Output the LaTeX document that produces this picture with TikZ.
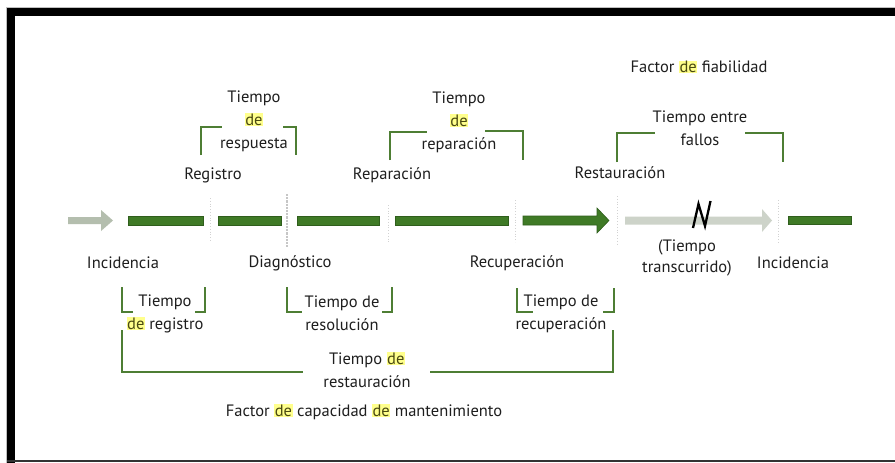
\documentclass[tikz,border=0pt]{standalone}
\usepackage{fontspec}
\setmainfont{PT Sans}
\usetikzlibrary{calc}
\definecolor{bargreen}{HTML}{3F7A26}
\definecolor{bardark}{HTML}{2F5E1C}
\definecolor{brk}{HTML}{4E7E34}
\definecolor{hly}{HTML}{FFFF8C}
\definecolor{hlt}{HTML}{4A4A12}
\definecolor{txt}{HTML}{1E1E1E}
\definecolor{ghost}{HTML}{B4BEAE}
\definecolor{ghost2}{HTML}{CDD3C9}
\newcommand{\hlde}{{\setlength{\fboxsep}{0.6pt}\colorbox{hly}{\textcolor{hlt}{de}}}}
\tikzset{
  lbl/.style={font=\fontsize{16.5}{23}\selectfont, text=txt, align=center, inner sep=0pt},
  brkline/.style={draw=brk, line width=2pt},
  barbox/.style={fill=bargreen, draw=bardark, line width=0.6pt},
  ghostarrow/.style={fill=ghost, draw=none},
  sep/.style={draw=gray!35, line width=0.8pt, dotted},
}
\begin{document}
\begin{tikzpicture}[x=1pt,y=-1pt]
\useasboundingbox (0,0) rectangle (895,463);
\fill[white] (0,0) rectangle (895,463);
% frame
\fill[gray!50] (6,7) rectangle (895,8);
\fill[gray!50] (6,7) rectangle (7,463);
\fill[black] (7,8) rectangle (895,16);
\fill[black] (7,8) rectangle (15,463);
\fill[black!80] (7,460.3) rectangle (895,461.8);

% faint separators
\draw[sep] (210,198) -- (210,242);
\draw[gray!45, line width=2.2pt, densely dotted] (287,194) -- (287,248);
\draw[sep] (388,205) -- (388,242);
\draw[sep] (515,200) -- (515,242);
\draw[sep] (617,196) -- (617,244);
\draw[sep] (778,200) -- (778,244);

% timeline
\fill[ghostarrow] (68,217) -- (101,217) -- (101,210) -- (113,220.5) -- (101,231) -- (101,224) -- (68,224) -- cycle;
\node[barbox, minimum width=75pt, minimum height=9pt, inner sep=0pt] (b1) at (165.5,220.5) {};
\node[barbox, minimum width=63pt, minimum height=9pt, inner sep=0pt] (b2) at (249.5,220.5) {};
\node[barbox, minimum width=82pt, minimum height=9pt, inner sep=0pt] (b3) at (338,220.5) {};
\node[barbox, minimum width=113pt, minimum height=9pt, inner sep=0pt] (b4) at (451.5,220.5) {};
\draw[barbox] (523,216) -- (597,216) -- (597,208) -- (609,220.5) -- (597,233) -- (597,225) -- (523,225) -- cycle;
\fill[ghost2] (625,216.5) -- (762,216.5) -- (762,209) -- (772,220.5) -- (762,232) -- (762,224.5) -- (625,224.5) -- cycle;
\draw[black, line width=2.3pt, line join=miter] (693,228) -- (698.5,204) -- (705,226) -- (710.5,201);
\node[barbox, minimum width=63pt, minimum height=8pt, inner sep=0pt] (b6) at (819.5,220) {};

% top labels
\node[lbl] (ffiab) at (699,67) {Factor \hlde{} fiabilidad};
\node[lbl] (tresp) at (254,121) {Tiempo\\\hlde\\respuesta};
\node[lbl] (trep) at (459,122) {Tiempo\\\hlde\\reparación};
\node[lbl] (tfall) at (700,128.5) {Tiempo entre\\fallos};
\node[lbl] (reg) at (213,175) {Registro};
\node[lbl] (repa) at (392,175) {Reparación};
\node[lbl] (rest) at (620,173) {Restauración};

% bottom labels
\node[lbl] (inc1) at (123,263) {Incidencia};
\node[lbl] (diag) at (290,263) {Diagnóstico};
\node[lbl] (recu) at (517,263) {Recuperación};
\node[lbl, font=\fontsize{16.5}{21}\selectfont] (ttrans) at (687,257.5) {(Tiempo\\transcurrido)};
\node[lbl] (inc2) at (793,263) {Incidencia};
\node[lbl] (treg) at (165,313.5) {Tiempo\\\hlde{} registro};
\node[lbl] (treso) at (342,313.5) {Tiempo de\\resolución};
\node[lbl] (trecu) at (561,313.5) {Tiempo de\\recuperación};
\node[lbl] (trest) at (367,370) {Tiempo \hlde\\restauración};
\node[lbl] (fcap) at (364,412) {Factor \hlde{} capacidad \hlde{} mantenimiento};

% brackets above
\draw[brkline] (201,155) -- (201,127) -- (222,127);
\draw[brkline] (283,127) -- (296,127) -- (296,155);
\draw[brkline] (390,160) -- (390,132) -- (427,132);
\draw[brkline] (485,131) -- (523,131) -- (523,160);
\draw[brkline] (617,162) -- (617,133) -- (655,133);
\draw[brkline] (745,133) -- (783,133) -- (783,162);

% brackets below
\draw[brkline] (122,287) -- (122,312) -- (133,312);
\draw[brkline] (195,312) -- (205,312) -- (205,287);
\draw[brkline] (287,287) -- (287,312) -- (302,312);
\draw[brkline] (382,312) -- (392,312) -- (392,287);
\draw[brkline] (517,288) -- (517,312) -- (533,312);
\draw[brkline] (603,312) -- (614,312) -- (614,288);
\draw[brkline] (122,330) -- (122,372) -- (303,372);
\draw[brkline] (430,372) -- (613,372) -- (613,330);
\end{tikzpicture}
\end{document}
